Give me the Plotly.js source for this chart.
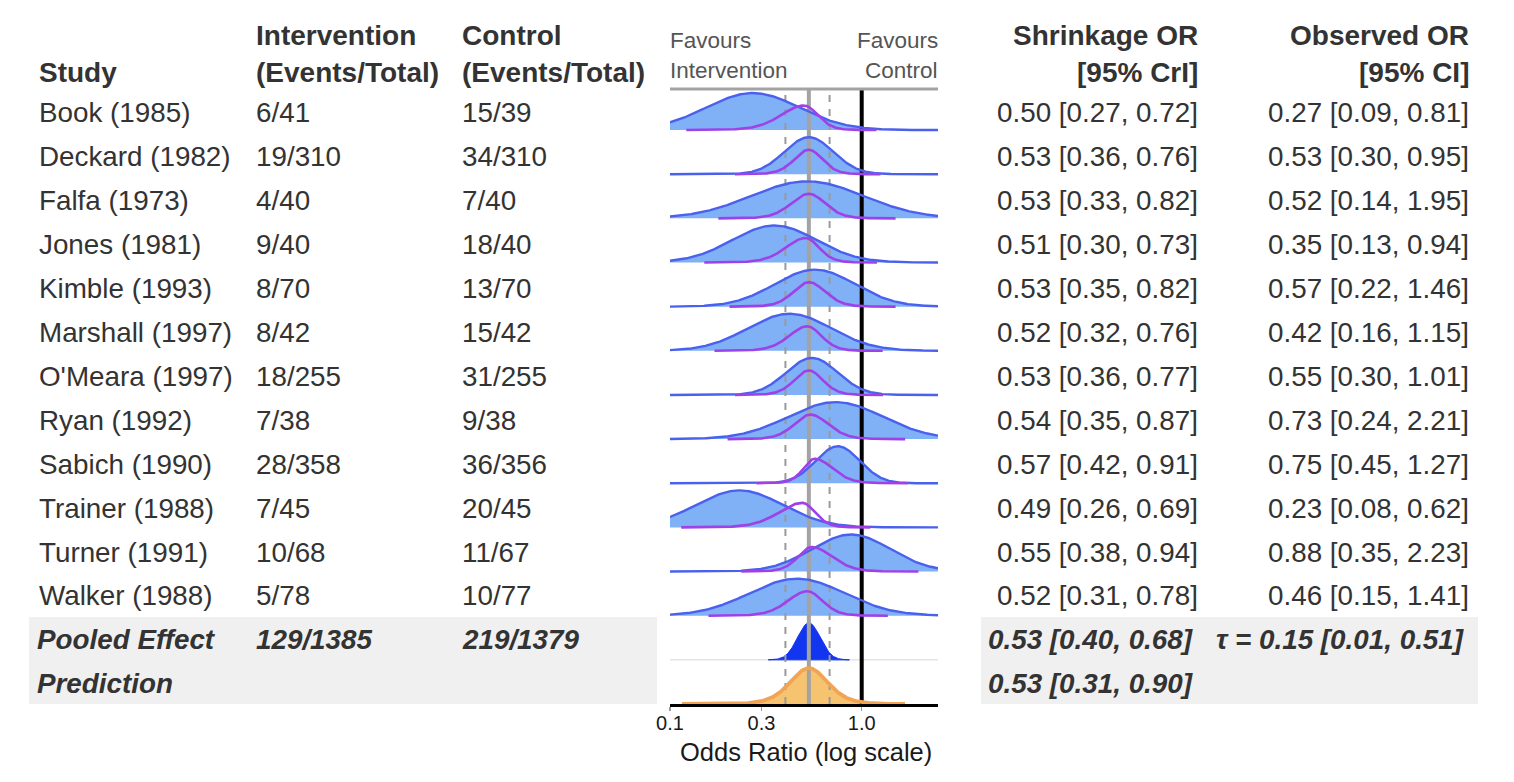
<!DOCTYPE html>
<html>
<head>
<meta charset="utf-8">
<script src="https://cdn.plot.ly/plotly-3.0.1.min.js"></script>
<style>html,body{margin:0;padding:0;background:#fff;}#chart{width:1514px;height:782px;}</style>
</head>
<body>
<div id="chart"></div>
<script>
// ---------------- DATA ----------------
const studies = ['Book (1985)', 'Deckard (1982)', 'Falfa (1973)', 'Jones (1981)', 'Kimble (1993)', 'Marshall (1997)', "O'Meara (1997)", 'Ryan (1992)', 'Sabich (1990)', 'Trainer (1988)', 'Turner (1991)', 'Walker (1988)'];
const interventionEvents = ['6/41', '19/310', '4/40', '9/40', '8/70', '8/42', '18/255', '7/38', '28/358', '7/45', '10/68', '5/78'];
const controlEvents = ['15/39', '34/310', '7/40', '18/40', '13/70', '15/42', '31/255', '9/38', '36/356', '20/45', '11/67', '10/77'];
const shrinkOR = [0.50, 0.53, 0.53, 0.51, 0.53, 0.52, 0.53, 0.54, 0.57, 0.49, 0.55, 0.52];
const shrinkLo = [0.27, 0.36, 0.33, 0.30, 0.35, 0.32, 0.36, 0.35, 0.42, 0.26, 0.38, 0.31];
const shrinkHi = [0.72, 0.76, 0.82, 0.73, 0.82, 0.76, 0.77, 0.87, 0.91, 0.69, 0.94, 0.78];
const obsOR = [0.27, 0.53, 0.52, 0.35, 0.57, 0.42, 0.55, 0.73, 0.75, 0.23, 0.88, 0.46];
const obsLo = [0.09, 0.30, 0.14, 0.13, 0.22, 0.16, 0.30, 0.24, 0.45, 0.08, 0.35, 0.15];
const obsHi = [0.81, 0.95, 1.95, 0.94, 1.46, 1.15, 1.01, 2.21, 1.27, 0.62, 2.23, 1.41];
const pooledLabel = 'Pooled Effect';
const pooledIntervention = '129/1385';
const pooledControl = '219/1379';
const pooledOR = [0.53, 0.40, 0.68];
const tauEst = [0.15, 0.01, 0.51];
const predictionLabel = 'Prediction';
const predictionOR = [0.53, 0.31, 0.90];
const nullOR = 1.0;
const tickVals = [0.1, 0.3, 1.0];
const tickText = ['0.1', '0.3', '1.0'];
const xRange = [0.1, 2.5];

// ---------------- GEOMETRY / STYLE ----------------
const W = 1514, H = 782;
const px = x => x / W;
const py = y => 1 - y / H;
const plotLeft = 670, plotRight = 938, plotTop = 89, plotBottom = 704;
const rowStep = 44.15;
const R = (plotBottom - plotTop) / rowStep;
const nRows = studies.length + 2;
const blueH = 37 / rowStep;
const purpleH = 24.5 / rowStep;
const FONT = 'Liberation Sans, Arial, Helvetica, sans-serif';
const TXT = '#333333';
const fillBlue = 'rgb(128,176,246)', lineBlue = 'rgb(74,96,238)', purple = 'rgb(158,66,232)';
const darkBlue = 'rgb(18,54,240)', orangeFill = 'rgb(246,196,112)', orangeLine = 'rgb(240,164,84)';
const L10 = Math.log10;
const gMin = L10(xRange[0]), gMax = L10(xRange[1]);
const N = 320;

function grid(a, b) {
  const out = [];
  for (let k = 0; k < N; k++) out.push(a + (b - a) * k / (N - 1));
  return out;
}
function tShape(z, nu) { return Math.pow(1 + z * z / nu, -(nu + 1) / 2); }
function tq(nu) { return ({5: 2.571, 6: 2.447, 8: 2.306, 12: 2.179})[nu]; }

const fills = [], vlines = [], lines = [];

function fillTrace(gs, ys, base, color, lw) {
  const xs = gs.map(g => Math.pow(10, g));
  return {x: xs.concat(xs.slice().reverse()), y: ys.concat(ys.map(() => base)), type: 'scatter', mode: 'lines',
          fill: 'toself', fillcolor: color, line: {width: lw || 0, color: color}, hoverinfo: 'skip'};
}
function lineTrace(gs, ys, color, w) {
  return {x: gs.map(g => Math.pow(10, g)), y: ys, type: 'scatter', mode: 'lines', line: {color: color, width: w, shape: 'linear'}, hoverinfo: 'skip'};
}

// study ridges
for (let i = 0; i < studies.length; i++) {
  const base = (nRows - 1) - i;
  const mu = L10(obsOR[i]);
  const sd = (L10(obsHi[i]) - L10(obsLo[i])) / 3.92;
  const gs = grid(gMin, gMax);
  const ys = gs.map(g => base + blueH * Math.exp(-0.5 * Math.pow((g - mu) / sd, 2)));
  fills.push(fillTrace(gs, ys, base, fillBlue));
  lines.push(lineTrace(gs, ys, lineBlue, 2.4));
  // shrinkage (purple)
  const m = L10(shrinkOR[i]);
  const nu = 12;
  const sL = (m - L10(shrinkLo[i])) / tq(nu), sR = (L10(shrinkHi[i]) - m) / tq(nu);
  const a = Math.max(gMin, m - 5.0 * sL), b = Math.min(gMax, m + 5.2 * sR);
  const gp = grid(a, b);
  const yp = gp.map(g => base + purpleH * tShape((g - m) / (g < m ? sL : sR), nu));
  lines.push(lineTrace(gp, yp, purple, 2.6));
}

// pooled row
{
  const base = 1;
  fills.push({x: xRange, y: [base, base], type: 'scatter', mode: 'lines', line: {color: '#e4e4e4', width: 1.5}, hoverinfo: 'skip'});
  const mu = L10(pooledOR[0]);
  const sd = (L10(pooledOR[2]) - L10(pooledOR[1])) / 3.92;
  const gs = grid(mu - 3.6 * sd, mu + 3.6 * sd);
  const ys = gs.map(g => base + blueH * Math.exp(-0.5 * Math.pow((g - mu) / sd, 2)));
  fills.push(fillTrace(gs, ys, base, darkBlue, 1));
}
// prediction row
{
  const base = 0;
  const mu = L10(predictionOR[0]);
  const nu = 8;
  const s = (L10(predictionOR[2]) - L10(predictionOR[1])) / (2 * tq(nu));
  const gs = grid(mu - 6.6 * s, mu + 5.0 * s);
  const ys = gs.map(g => base + blueH * 0.97 * tShape((g - mu) / s, nu));
  fills.push(fillTrace(gs, ys, base, orangeFill));
  lines.push(lineTrace(gs, ys, orangeLine, 3.8));
}

// vertical reference lines
vlines.push({x: [pooledOR[1], pooledOR[1]], y: [0, R - 0.06], type: 'scatter', mode: 'lines', line: {color: '#9a9a9a', width: 2, dash: '7px,7px'}, hoverinfo: 'skip'});
vlines.push({x: [pooledOR[2], pooledOR[2]], y: [0, R - 0.06], type: 'scatter', mode: 'lines', line: {color: '#9a9a9a', width: 2, dash: '7px,7px'}, hoverinfo: 'skip'});
vlines.push({x: [pooledOR[0], pooledOR[0]], y: [0, R], type: 'scatter', mode: 'lines', line: {color: '#a3a3a3', width: 4}, hoverinfo: 'skip'});
vlines.push({x: [nullOR, nullOR], y: [0, R], type: 'scatter', mode: 'lines', line: {color: '#000000', width: 4}, hoverinfo: 'skip'});

const traces = fills.concat(vlines).concat(lines);

// ---------------- TEXT ----------------
const annotations = [];
function ann(text, x, y, anchor, size, color, extra) {
  annotations.push(Object.assign({text: text, xref: 'paper', yref: 'paper', x: px(x), y: py(y), xanchor: anchor, yanchor: 'middle',
    showarrow: false, borderpad: 0, borderwidth: 0, font: {family: FONT, size: size, color: color}}, extra || {}));
}
const HS = 28, RS = 27.8;
const colStudy = 39, colInt = 256, colCtl = 462, colShr = 1198, colObs = 1469;
ann('<b>Study</b>', colStudy, 72, 'left', HS, TXT);
ann('<b>Intervention</b>', colInt, 35, 'left', HS, TXT);
ann('<b>(Events/Total)</b>', colInt, 72, 'left', HS, TXT);
ann('<b>Control</b>', colCtl, 35, 'left', HS, TXT);
ann('<b>(Events/Total)</b>', colCtl, 72, 'left', HS, TXT);
ann('<b>Shrinkage OR</b>', colShr, 35, 'right', HS, TXT);
ann('<b>[95% CrI]</b>', colShr, 72, 'right', HS, TXT);
ann('<b>Observed OR</b>', colObs, 35, 'right', HS, TXT);
ann('<b>[95% CI]</b>', colObs, 72, 'right', HS, TXT);
ann('Favours', plotLeft, 41, 'left', 22.5, '#555555');
ann('Intervention', plotLeft, 71, 'left', 22.5, '#555555');
ann('Favours', plotRight, 41, 'right', 22.5, '#555555');
ann('Control', plotRight, 71, 'right', 22.5, '#555555');

const rowY = i => 113 + 43.9 * i;
const fmt = v => v.toFixed(2);
for (let i = 0; i < studies.length; i++) {
  const y = rowY(i);
  ann(studies[i], colStudy, y, 'left', RS, TXT);
  ann(interventionEvents[i], colInt, y, 'left', RS, TXT);
  ann(controlEvents[i], colCtl, y, 'left', RS, TXT);
  ann(fmt(shrinkOR[i]) + ' [' + fmt(shrinkLo[i]) + ', ' + fmt(shrinkHi[i]) + ']', colShr, y, 'right', RS, TXT);
  ann(fmt(obsOR[i]) + ' [' + fmt(obsLo[i]) + ', ' + fmt(obsHi[i]) + ']', colObs, y, 'right', RS, TXT);
}
const bi = s => '<b><i>' + s + '</i></b>';
const yP = rowY(12), yQ = rowY(13);
ann(bi(pooledLabel), colStudy - 2, yP, 'left', RS, TXT);
ann(bi(pooledIntervention), colInt, yP, 'left', RS, TXT);
ann(bi(pooledControl), colCtl, yP, 'left', RS, TXT);
ann(bi(fmt(pooledOR[0]) + ' [' + fmt(pooledOR[1]) + ', ' + fmt(pooledOR[2]) + ']'), colShr - 4, yP, 'right', RS, TXT);
ann(bi('τ = ' + fmt(tauEst[0]) + ' [' + fmt(tauEst[1]) + ', ' + fmt(tauEst[2]) + ']'), colObs - 4, yP, 'right', RS, TXT);
ann(bi(predictionLabel), colStudy - 2, yQ, 'left', RS, TXT);
ann(bi(fmt(predictionOR[0]) + ' [' + fmt(predictionOR[1]) + ', ' + fmt(predictionOR[2]) + ']'), colShr - 4, yQ, 'right', RS, TXT);
ann('Odds Ratio (log scale)', (plotLeft + plotRight) / 2 + 2, 752, 'center', 25.5, '#1a1a1a');

const shapes = [
  {type: 'rect', xref: 'paper', yref: 'paper', x0: px(29), x1: px(657), y0: py(704), y1: py(617), fillcolor: '#f0f0f0', line: {width: 0}, layer: 'below'},
  {type: 'rect', xref: 'paper', yref: 'paper', x0: px(981), x1: px(1478), y0: py(704), y1: py(617), fillcolor: '#f0f0f0', line: {width: 0}, layer: 'below'},
  {type: 'line', xref: 'paper', yref: 'paper', x0: px(plotLeft), x1: px(plotRight), y0: py(plotTop), y1: py(plotTop), line: {color: '#a3a3a3', width: 3}}
];

const layout = {
  width: W, height: H,
  margin: {l: 0, r: 0, t: 0, b: 0, pad: 0},
  paper_bgcolor: '#ffffff', plot_bgcolor: 'rgba(0,0,0,0)',
  showlegend: false,
  xaxis: {type: 'log', range: [gMin, gMax], domain: [px(plotLeft), px(plotRight)],
          tickvals: tickVals, ticktext: tickText, ticks: 'outside', ticklen: 4, tickwidth: 1.5, tickcolor: '#999999',
          ticklabelstandoff: -5,
          showline: true, linecolor: '#000000', linewidth: 3, showgrid: false, zeroline: false,
          tickfont: {family: FONT, size: 20, color: '#1a1a1a'}, layer: 'below traces', fixedrange: true},
  yaxis: {range: [0, R], domain: [py(plotBottom), py(plotTop)], visible: false, fixedrange: true},
  annotations: annotations,
  shapes: shapes
};

Plotly.newPlot('chart', traces, layout, {displayModeBar: false, staticPlot: true});
</script>
</body>
</html>
